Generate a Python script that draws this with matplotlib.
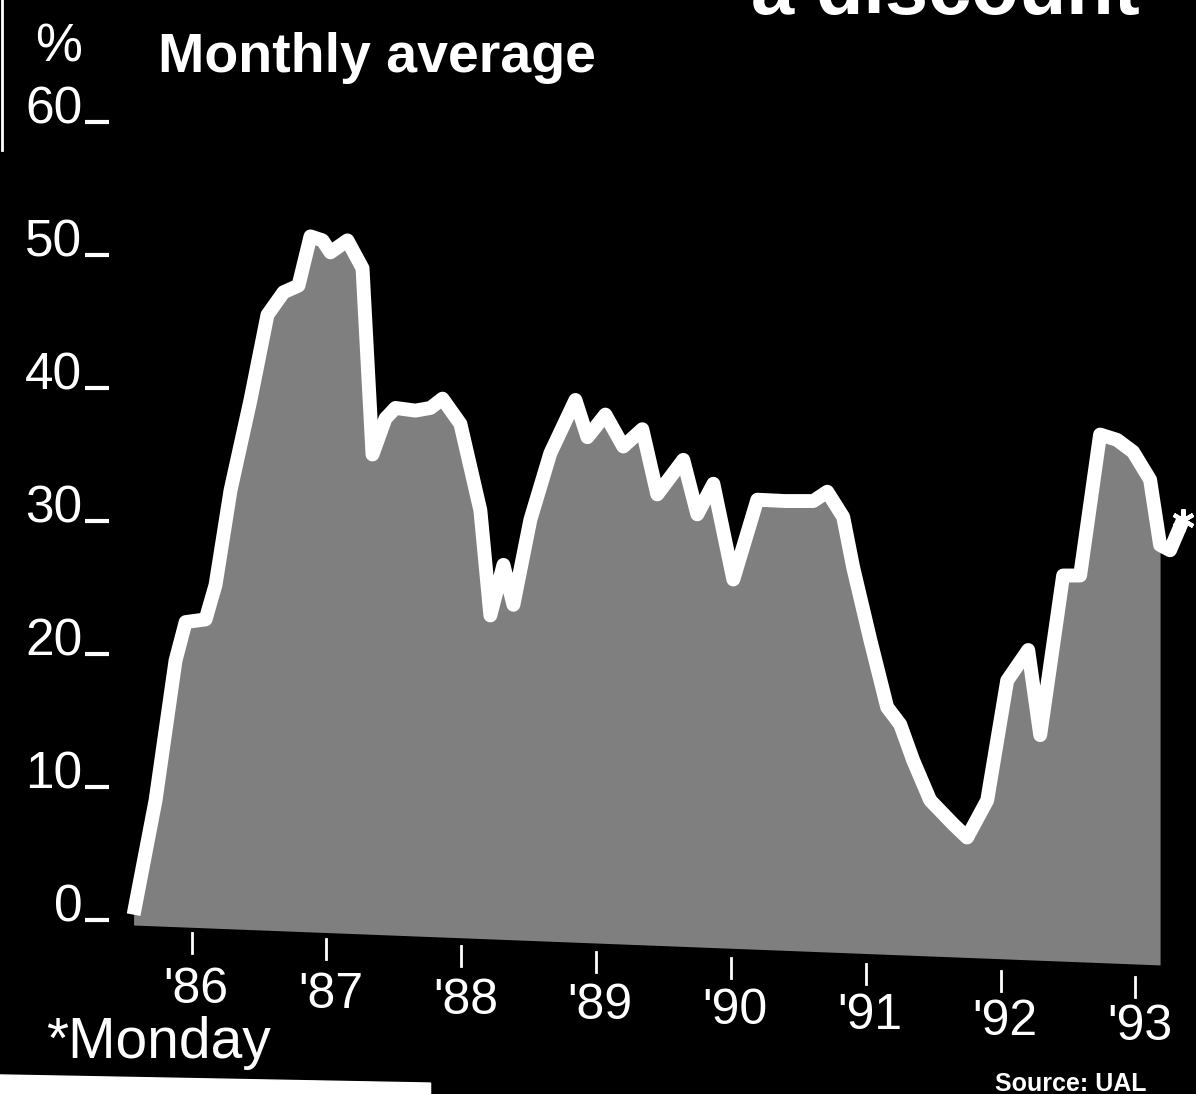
import matplotlib.pyplot as plt
from matplotlib.patches import Polygon
import numpy as np

# monthly average discount
years = [1985.570, 1985.733, 1985.881, 1985.956, 1986.104, 1986.178, 1986.289,
         1986.437, 1986.563, 1986.682, 1986.793, 1986.882, 1986.971, 1987.030,
         1987.156, 1987.268, 1987.342, 1987.438, 1987.512, 1987.660, 1987.772,
         1987.861, 1987.994, 1988.142, 1988.216, 1988.313, 1988.387, 1988.513,
         1988.661, 1988.847, 1988.936, 1989.069, 1989.202, 1989.343, 1989.454,
         1989.647, 1989.751, 1989.870, 1990.018, 1990.196, 1990.403, 1990.611,
         1990.715, 1990.833, 1990.907, 1991.033, 1991.159, 1991.256, 1991.352,
         1991.478, 1991.649, 1991.752, 1991.901, 1992.049, 1992.205, 1992.294,
         1992.464, 1992.590, 1992.738, 1992.864, 1992.983, 1993.109, 1993.183,
         1993.257, 1993.354]
pct = [0.4, 9.0, 19.5, 22.4, 22.6, 25.2, 32.3,
       39.1, 45.5, 47.2, 47.7, 51.4, 51.1, 50.2,
       51.1, 49.0, 35.0, 37.7, 38.5, 38.3, 38.5,
       39.2, 37.3, 30.8, 22.9, 26.7, 23.7, 30.1,
       35.1, 39.1, 36.3, 38.0, 35.6, 36.9, 32.0,
       34.6, 30.5, 32.8, 25.6, 31.6, 31.5, 31.5,
       32.2, 30.3, 26.5, 21.1, 16.0, 14.7, 12.0,
       9.0, 7.2, 6.2, 9.0, 18.0, 20.3, 13.9,
       25.9, 25.9, 36.5, 36.1, 35.2, 33.1, 28.2,
       27.8, 30.1]

tick_years = [1986, 1987, 1988, 1989, 1990, 1991, 1992, 1993]
tick_labels = ["'86", "'87", "'88", "'89", "'90", "'91", "'92", "'93"]
y_ticks = [0, 10, 20, 30, 40, 50, 60]

plt.rcParams['font.family'] = ['Liberation Sans', 'DejaVu Sans']

fig = plt.figure(figsize=(11.96, 10.94), dpi=100, facecolor='black')
ax = fig.add_axes([0.0914, 0.0375, 0.9143, 0.8753])
ax.set_facecolor('black')
ax.set_xlim(1985.39, 1993.50)
ax.set_ylim(-10, 62)

yrs = np.array(years)
vals = np.array(pct)

# slanted "floor" of the shaded area (the print is a bit skewed)
floor = -0.38 - 0.394 * (yrs - yrs[0])
m = yrs <= 1993.19
ax.fill_between(yrs[m], vals[m], floor[m], color='#7f7f7f', lw=0)

ax.plot(yrs, vals, color='white', lw=10, solid_joinstyle='round',
        solid_capstyle='butt')
ax.plot(yrs[-1], vals[-1], marker=(6, 2, 0), ms=16, mew=3, color='white')

for s in ax.spines.values():
    s.set_visible(False)
ax.set_xticks([])
ax.set_yticks(y_ticks)
ax.tick_params(axis='y', direction='out', length=17, width=3, color='white',
               labelleft=False)

for v in y_ticks:
    ax.text(1985.19, v + 0.9, str(v), ha='right', va='center', fontsize=37,
            color='white')

for yr, lab in zip(tick_years, tick_labels):
    top = -0.98 - 0.473 * (yr - 1986)
    ax.plot([yr, yr], [top, top - 1.5], color='white', lw=2, clip_on=False)
    ax.text(yr + 0.03, -5.26 - 0.398 * (yr - 1986), lab, ha='center',
            va='center', fontsize=36, color='white')

ax.text(1985.014, 65.6, '%', ha='center', va='center', fontsize=38,
        color='white')
ax.text(1985.748, 63.76, 'Monthly average', ha='left', va='baseline',
        fontsize=40, fontweight='bold', color='white')
ax.text(1984.925, -9.25, '*Monday', ha='left', va='center', fontsize=41,
        color='white')

# headline, cut off at the top edge as in the scan, and source line
fig.text(1140 / 1196, 1 - 14 / 1094, 'a discount', ha='right', va='baseline',
         fontsize=56, fontweight='bold', color='white')
fig.text(995 / 1196, 22 / 1094, 'Source: UAL', ha='left', va='top',
         fontsize=18, fontweight='bold', color='white')

# bits of the page frame
fig.add_artist(plt.Line2D([0.002, 0.002], [1 - 150 / 1094, 1], color='white',
                          lw=2))
fig.add_artist(Polygon([[0, 0.0174], [0.36, 0.010], [0.36, 0], [0, 0]],
                       closed=True, color='white', transform=fig.transFigure))

fig.savefig('out.png', dpi=100, facecolor='black')
